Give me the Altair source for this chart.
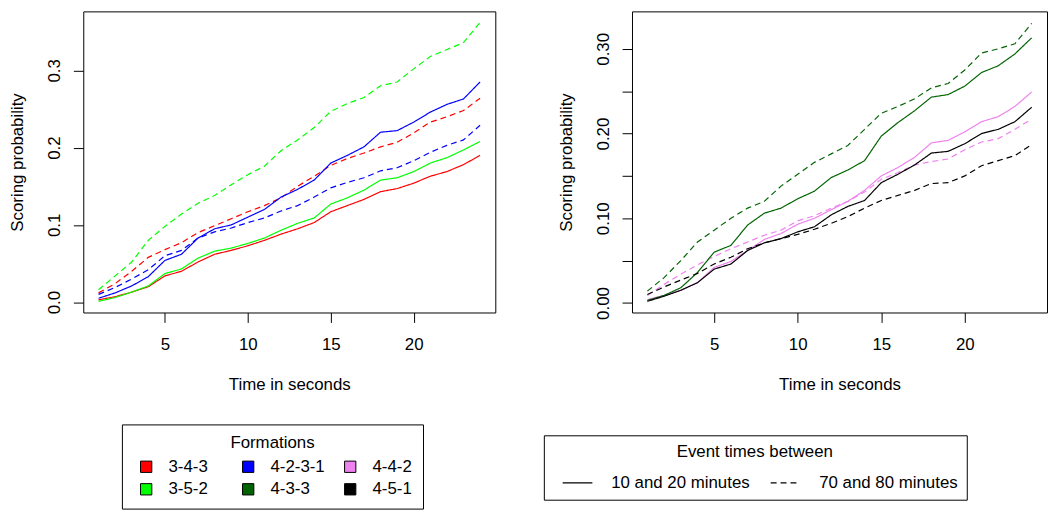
import altair as alt
import pandas as pd

# ---------------- data ----------------
t = list(range(1, 25))

periods = ["10 and 20 minutes", "70 and 80 minutes"]

# left panel
f343_early = [0.003, 0.007, 0.013, 0.020, 0.034, 0.040, 0.052, 0.062, 0.067, 0.073, 0.080, 0.088,
              0.095, 0.103, 0.117, 0.125, 0.133, 0.143, 0.147, 0.154, 0.163, 0.169, 0.178, 0.190]
f343_late = [0.012, 0.024, 0.040, 0.058, 0.068, 0.077, 0.090, 0.099, 0.108, 0.117, 0.125, 0.135,
             0.150, 0.163, 0.177, 0.186, 0.193, 0.201, 0.207, 0.219, 0.233, 0.240, 0.248, 0.264]
f352_early = [0.001, 0.006, 0.013, 0.021, 0.037, 0.043, 0.057, 0.066, 0.070, 0.076, 0.083, 0.093,
              0.102, 0.109, 0.127, 0.135, 0.145, 0.158, 0.161, 0.169, 0.180, 0.187, 0.197, 0.208]
f352_late = [0.016, 0.034, 0.052, 0.080, 0.098, 0.114, 0.128, 0.138, 0.152, 0.165, 0.176, 0.196,
             0.210, 0.226, 0.247, 0.257, 0.265, 0.280, 0.285, 0.302, 0.318, 0.327, 0.336, 0.362]
f4231_early = [0.005, 0.012, 0.021, 0.033, 0.054, 0.062, 0.083, 0.095, 0.100, 0.110, 0.120, 0.136,
               0.146, 0.158, 0.180, 0.190, 0.201, 0.220, 0.222, 0.233, 0.246, 0.256, 0.263, 0.285]
f4231_late = [0.010, 0.019, 0.030, 0.042, 0.060, 0.067, 0.083, 0.091, 0.096, 0.103, 0.109, 0.118,
              0.125, 0.136, 0.148, 0.155, 0.161, 0.170, 0.174, 0.183, 0.194, 0.203, 0.210, 0.229]

# right panel
f442_early = [0.004, 0.009, 0.015, 0.024, 0.042, 0.049, 0.062, 0.075, 0.082, 0.093, 0.100, 0.110,
              0.120, 0.133, 0.150, 0.160, 0.172, 0.189, 0.192, 0.202, 0.214, 0.220, 0.232, 0.249]
f442_late = [0.009, 0.022, 0.034, 0.045, 0.055, 0.064, 0.072, 0.080, 0.086, 0.097, 0.103, 0.112,
             0.120, 0.131, 0.146, 0.154, 0.163, 0.167, 0.170, 0.181, 0.190, 0.194, 0.205, 0.217]
f433_early = [0.003, 0.009, 0.018, 0.036, 0.060, 0.068, 0.092, 0.106, 0.112, 0.123, 0.132, 0.148,
              0.157, 0.168, 0.197, 0.213, 0.227, 0.243, 0.246, 0.256, 0.272, 0.280, 0.294, 0.313]
f433_late = [0.014, 0.030, 0.050, 0.072, 0.086, 0.100, 0.112, 0.120, 0.138, 0.152, 0.166, 0.176,
             0.186, 0.205, 0.224, 0.232, 0.241, 0.254, 0.259, 0.275, 0.295, 0.300, 0.306, 0.330]
f451_early = [0.002, 0.008, 0.015, 0.024, 0.040, 0.046, 0.062, 0.071, 0.076, 0.084, 0.090, 0.104,
              0.114, 0.121, 0.142, 0.152, 0.163, 0.177, 0.179, 0.188, 0.200, 0.205, 0.214, 0.231]
f451_late = [0.010, 0.019, 0.027, 0.035, 0.046, 0.054, 0.064, 0.071, 0.076, 0.081, 0.087, 0.094,
             0.102, 0.112, 0.121, 0.127, 0.133, 0.141, 0.142, 0.150, 0.162, 0.168, 0.174, 0.187]

formations = ["3-4-3", "3-5-2", "4-2-3-1", "4-4-2", "4-3-3", "4-5-1"]
line_colors = ["#FF0000", "#00FF00", "#0000FF", "#EE82EE", "#006400", "#000000"]

# legend order (filled column by column, 2 rows x 3 columns) and colours
legend_order = ["3-4-3", "3-5-2", "4-2-3-1", "4-3-3", "4-4-2", "4-5-1"]
legend_colors = ["#FF0000", "#00FF00", "#0000FF", "#006400", "#EE82EE", "#000000"]

series = [
    ("left", "3-4-3", f343_early, f343_late),
    ("left", "3-5-2", f352_early, f352_late),
    ("left", "4-2-3-1", f4231_early, f4231_late),
    ("right", "4-4-2", f442_early, f442_late),
    ("right", "4-3-3", f433_early, f433_late),
    ("right", "4-5-1", f451_early, f451_late),
]

rows = []
for panel, form, early, late in series:
    for per, vals in zip(periods, [early, late]):
        for ti, v in zip(t, vals):
            rows.append({"panel": panel, "formation": form, "key": form,
                         "period": per, "time": ti, "prob": v})
df = pd.DataFrame(rows)

# ---------------- chart ----------------
FONT = "Liberation Sans"
FS = 17

fill_legend = alt.Legend(
    title="Formations", orient="none", legendX=39, legendY=417,
    columns=3, gridAlign="all", symbolType="square", symbolSize=130,
    symbolStrokeColor="black", symbolStrokeWidth=1, symbolOpacity=1, symbolOffset=5,
    labelFontSize=FS, titleFontSize=FS, titleFontWeight="normal", titleAnchor="middle",
    labelColor="black", titleColor="black", labelFont=FONT, titleFont=FONT,
    padding=11, titlePadding=6, rowPadding=5, columnPadding=12, labelOffset=14,
    strokeColor="black", fillColor="white",
)

dash_legend = alt.Legend(
    title="Event times between", orient="none", legendX=465, legendY=428,
    columns=2, symbolType="stroke", symbolSize=900, symbolStrokeWidth=1.3,
    symbolStrokeColor="black", symbolOpacity=1, symbolOffset=9,
    labelFontSize=FS, titleFontSize=FS, titleFontWeight="normal", titleAnchor="middle",
    labelColor="black", titleColor="black", labelFont=FONT, titleFont=FONT,
    padding=9, titlePadding=6, rowPadding=4, columnPadding=11, labelOffset=18,
    strokeColor="black", fillColor="white",
)

color_scale = alt.Scale(domain=formations, range=line_colors)
fill_scale = alt.Scale(domain=legend_order, range=legend_colors)
dash_scale = alt.Scale(domain=periods, range=[[1, 0], [6, 4]])

x_scale = alt.Scale(domain=[0.08, 24.92], nice=False, zero=False)


def panel(name, width, ydom, yvals, ylabel_expr):
    sub = df[df["panel"] == name]
    base = alt.Chart(sub).encode(
        x=alt.X("time:Q", scale=x_scale,
                axis=alt.Axis(values=[5, 10, 15, 20], title="Time in seconds", format="d")),
        y=alt.Y("prob:Q", scale=alt.Scale(domain=ydom, nice=False, zero=False),
                axis=alt.Axis(values=yvals, labelExpr=ylabel_expr, title="Scoring probability",
                              labelAngle=270, labelAlign="center", labelBaseline="bottom",
                              labelPadding=10, titlePadding=19)),
    )
    lines = base.mark_line(strokeWidth=1.2).encode(
        color=alt.Color("formation:N", scale=color_scale, legend=None),
        strokeDash=alt.StrokeDash("period:N", scale=dash_scale, legend=dash_legend),
        order=alt.Order("time:Q"),
    )
    keys = base.mark_square(size=0, filled=True, opacity=1).encode(
        fill=alt.Fill("key:N", scale=fill_scale, legend=fill_legend),
    )
    return alt.layer(lines, keys).properties(width=width, height=304)


left = panel("left", 416, [-0.0134, 0.3764], [0.0, 0.1, 0.2, 0.3],
             "format(datum.value, '.1f')")
right = panel("right", 419, [-0.0112, 0.3442],
              [0.0, 0.05, 0.10, 0.15, 0.20, 0.25, 0.30],
              "round(datum.value*100) % 10 == 0 ? format(datum.value, '.2f') : ''")

chart = alt.hconcat(left, right, spacing=61).resolve_scale(
    color="shared", fill="shared", strokeDash="shared"
).resolve_legend(
    fill="shared", strokeDash="shared"
).properties(
    padding={"left": 0, "top": 0, "right": 0, "bottom": 0}
).configure(
    font=FONT
).configure_view(
    stroke="black", strokeWidth=1
).configure_axis(
    domain=False, grid=False, ticks=True, tickColor="black", tickSize=10, tickWidth=1,
    labelFontSize=FS, titleFontSize=FS, labelColor="black", titleColor="black",
    titleFontWeight="normal", labelFont=FONT, titleFont=FONT, labelOverlap=False,
    labelFlush=False,
).configure_axisX(
    labelPadding=14, titlePadding=25, labelAngle=0,
)

chart.save("out.html", embed_options={"renderer": "svg", "actions": False})
